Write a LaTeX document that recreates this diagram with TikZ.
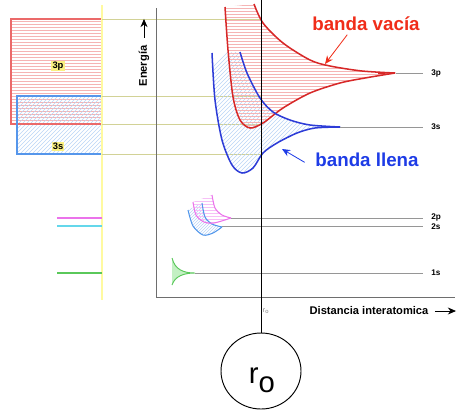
\documentclass[tikz,border=0pt]{standalone}
\usepackage{fontspec}
\setmainfont{Liberation Sans}
\usetikzlibrary{arrows.meta, positioning, shapes.geometric}
\definecolor{bandRed}{RGB}{215, 40, 40}
\definecolor{textRed}{RGB}{240, 45, 25}
\definecolor{bandBlue}{RGB}{45, 60, 215}
\definecolor{textBlue}{RGB}{30, 60, 230}
\definecolor{boxRed}{RGB}{235, 105, 105}
\definecolor{boxBlue}{RGB}{85, 150, 235}
\definecolor{hatchRed}{RGB}{245, 180, 180}
\definecolor{hatchBlue}{RGB}{185, 212, 245}
\definecolor{guideOlive}{RGB}{210, 210, 150}
\definecolor{paleYellow}{RGB}{255, 250, 160}
\definecolor{labelYellow}{RGB}{250, 240, 130}
\definecolor{axisGray}{RGB}{110, 110, 110}
\definecolor{levelGray}{RGB}{150, 150, 150}
\definecolor{lvlMagenta}{RGB}{235, 115, 235}
\definecolor{lvlCyan}{RGB}{100, 215, 235}
\definecolor{lvlBlue}{RGB}{80, 150, 235}
\definecolor{lvlGreen}{RGB}{90, 200, 90}
\definecolor{fillGreen}{RGB}{195, 240, 195}

\begin{document}
\begin{tikzpicture}[
    x=0.03cm, y=-0.03cm,
    redcurve/.style={draw=bandRed, line width=1.3pt},
    bluecurve/.style={draw=bandBlue, line width=1.3pt},
    levelline/.style={draw=levelGray, line width=0.6pt},
    guideline/.style={draw=guideOlive, line width=0.7pt},
    lvllabel/.style={font=\fontsize{7}{8}\selectfont\bfseries, inner sep=1pt, anchor=west},
    boxlabel/.style={font=\fontsize{8}{9}\selectfont\bfseries, fill=labelYellow, inner sep=1pt},
    bandlabel/.style={font=\fontsize{16}{18}\selectfont\bfseries, inner sep=0pt},
    arrow/.style={-{Stealth[length=7pt, width=6pt]}, line width=0.7pt},
    axisline/.style={draw=axisGray, line width=0.8pt}
]
\useasboundingbox (0,0) rectangle (461,411);

% Atomic levels (left)
\begin{scope}
  \clip (11,19) rectangle (102,124);
  \foreach \y in {21,24,...,123} \draw[hatchRed, line width=0.45pt] (11,\y) -- (102,\y);
\end{scope}
\begin{scope}
  \clip (17,96) rectangle (102,154);
  \foreach \k in {-60,-56,...,104} \draw[hatchBlue, line width=0.4pt] (\k,154) -- ++(60,-60);
\end{scope}
\draw[boxRed, line width=1.2pt] (11,19) rectangle (102,124);
\draw[boxBlue, line width=1.2pt] (17,96) rectangle (102,154);
\node[boxlabel] (box3p) at (58,66) {3p};
\node[boxlabel] (box3s) at (58,146) {3s};

\draw[paleYellow, line width=1pt] (102,5) -- (102,300);
\draw[lvlMagenta, line width=0.9pt] (57,218) -- (102,218);
\draw[lvlCyan, line width=0.9pt] (57,226) -- (102,226);
\draw[lvlGreen, line width=0.9pt] (57,273) -- (102,273);

% Guide lines
\foreach \y in {19,96,124,154} \draw[guideline] (102,\y) -- (261,\y);

% Axes
\draw[axisline] (156,8) -- (156,297) -- (455,297);
\node[rotate=90, font=\fontsize{9.5}{11}\selectfont\bfseries] (energia) at (144,66) {Energía};
\draw[arrow, black] ([yshift=3pt]energia.east) -- ++(0,-19);

% Bands 3s / 3p
\begin{scope}
  \clip plot[smooth] coordinates {(212,53) (215,100) (222,140) (232,165) (242,173) (253,168) (263,153) (277,143) (297,133) (315,128) (340,127)}
    -- plot[smooth] coordinates {(340,127) (310,125) (290,120) (273,112) (260,98) (247,73) (240,52)} -- cycle;
  \foreach \k in {100,104,...,350} \draw[hatchBlue, line width=0.4pt] (\k,180) -- ++(140,-140);
\end{scope}
\begin{scope}
  \clip plot[smooth] coordinates {(225,7) (228,50) (233,97) (240,120) (250,128) (263,123) (283,108) (310,93) (340,83) (365,78) (395,73)}
    -- plot[smooth] coordinates {(395,73) (362,71) (330,66) (310,60) (283,43) (263,23) (254,4)} -- cycle;
  \foreach \y in {5,8,...,128} \draw[hatchRed, line width=0.45pt] (220,\y) -- (400,\y);
\end{scope}
\draw[redcurve] plot[smooth] coordinates {(225,7) (228,50) (233,97) (240,120) (250,128) (263,123) (283,108) (310,93) (340,83) (365,78) (395,73)};
\draw[redcurve] plot[smooth] coordinates {(254,4) (263,23) (283,43) (310,60) (330,66) (362,71) (395,73)};
\fill[bandRed] (378,71.8) -- (396,73) -- (378,74.2) -- cycle;
\draw[bluecurve] plot[smooth] coordinates {(212,53) (215,100) (222,140) (232,165) (242,173) (253,168) (263,153) (277,143) (297,133) (315,128) (340,127)};
\draw[bluecurve] plot[smooth] coordinates {(240,52) (247,73) (260,98) (273,112) (290,120) (310,125) (340,127)};

% Bands 2s / 2p
\begin{scope}
  \clip plot[smooth] coordinates {(188,210) (193,226) (203,235) (213,233) (222,227)}
    -- plot[smooth] coordinates {(222,227) (212,224) (205,217) (202,203)} -- cycle;
  \foreach \k in {160,163,...,230} \draw[hatchBlue, line width=0.4pt] (\k,240) -- ++(40,-40);
\end{scope}
\begin{scope}
  \clip plot[smooth] coordinates {(193,202) (196,215) (204,222) (214,223) (231,218)}
    -- plot[smooth] coordinates {(231,218) (222,215) (215,208) (212,195)} -- cycle;
  \foreach \y in {195,198,...,225} \draw[lvlMagenta!45, line width=0.4pt] (190,\y) -- (235,\y);
\end{scope}
\draw[lvlBlue, line width=0.9pt] plot[smooth] coordinates {(188,210) (193,226) (203,235) (213,233) (222,227)};
\draw[lvlBlue, line width=0.9pt] plot[smooth] coordinates {(202,203) (205,217) (212,224) (222,227)};
\draw[lvlMagenta, line width=0.9pt] plot[smooth] coordinates {(193,202) (196,215) (204,222) (214,223) (231,218)};
\draw[lvlMagenta, line width=0.9pt] plot[smooth] coordinates {(212,195) (215,208) (222,215) (231,218)};

% Band 1s
\filldraw[fill=fillGreen, draw=lvlGreen, line width=0.8pt] (172,258) .. controls (175,270) and (184,273) .. (195,273)
  .. controls (184,273) and (175,276) .. (172,285);

% Level lines
\coordinate (tip3p) at (396,73);
\coordinate (tip3s) at (340,127);
\coordinate (tip2p) at (231,218);
\coordinate (tip2s) at (222,226);
\coordinate (tip1s) at (195,273);
\node[lvllabel] (n3p) at (430,73) {3p};
\node[lvllabel] (n3s) at (430,127) {3s};
\node[lvllabel] (n2p) at (430,217) {2p};
\node[lvllabel] (n2s) at (430,227) {2s};
\node[lvllabel] (n1s) at (430,273) {1s};
\draw[levelline] (tip3p) -- ([xshift=-6pt]n3p.west);
\draw[levelline] (tip3s) -- ([xshift=-6pt]n3s.west);
\draw[levelline] (tip2p) -- ([xshift=-6pt]n2p.west |- tip2p);
\draw[levelline] (tip2s) -- ([xshift=-6pt]n2s.west |- tip2s);
\draw[levelline] (tip1s) -- ([xshift=-6pt]n1s.west);

% Labels
\node[bandlabel, text=textRed] (vacia) at (366,24) {banda vacía};
\coordinate (vaciatip) at (325,64);
\draw[arrow, textRed] ([xshift=-16pt, yshift=-3pt]vacia.south) -- (vaciatip);
\node[bandlabel, text=textBlue] (llena) at (367,160) {banda llena};
\coordinate (llenatip) at (282,149);
\draw[arrow, textBlue] ([xshift=-9pt, yshift=-2pt]llena.west) -- (llenatip);

\node[font=\fontsize{9.5}{11}\selectfont\bfseries] (dist) at (369,311) {Distancia interatomica};
\coordinate (distend) at (456,311);
\draw[arrow, black] ([xshift=2pt]dist.east) -- (distend);
\node[font=\fontsize{6}{7}\selectfont, text=gray] (rsmall) at (266,311) {r\textsubscript{o}};

% r_o marker
\coordinate (rtop) at (261,0);
\node[ellipse, draw, line width=0.8pt, minimum width=2.4cm, minimum height=2.28cm] (ro) at (261,371) {};
\draw[line width=0.8pt] (rtop) -- (ro.north);
\node[font=\fontsize{25}{28}\selectfont] (rolabel) at (262,380) {r\raisebox{-0.3em}{o}};

\end{tikzpicture}
\end{document}
